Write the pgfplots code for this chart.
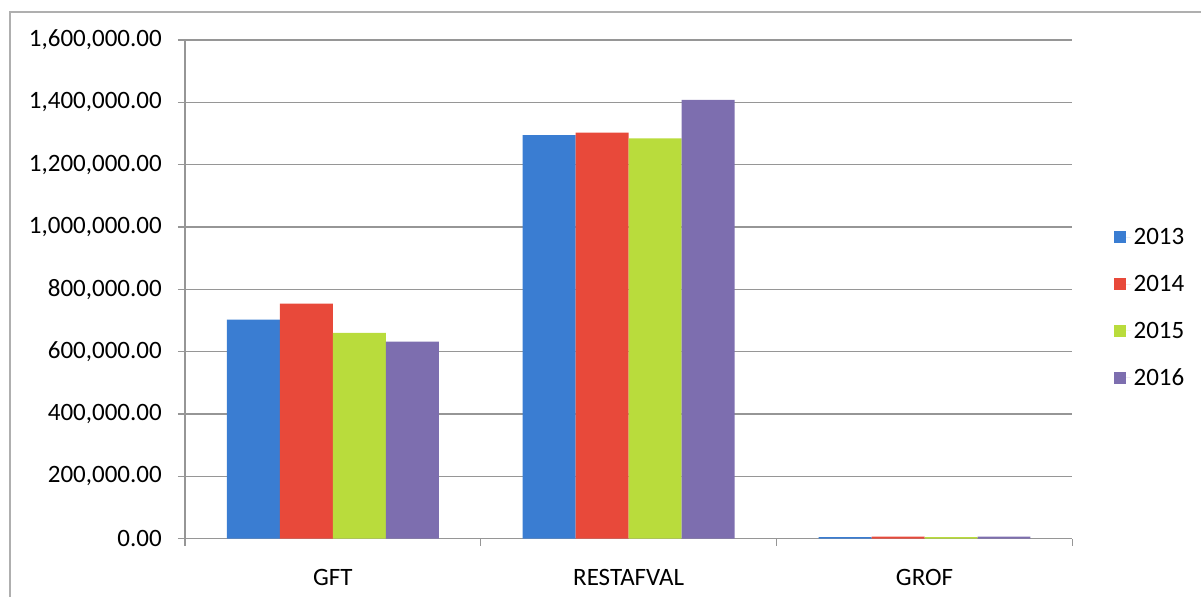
\documentclass[border=0pt]{standalone}
\usepackage{fontspec}
\setmainfont{Carlito}
\usepackage{pgfplots}
\pgfplotsset{compat=1.18}
\definecolor{c13}{RGB}{58,125,210}
\definecolor{c14}{RGB}{232,73,58}
\definecolor{c15}{RGB}{185,220,60}
\definecolor{c16}{RGB}{125,110,175}
\definecolor{gridc}{RGB}{150,150,150}
\begin{document}
\begin{tikzpicture}[x=1pt,y=1pt]
\path (0,0) rectangle (1202,597);
\draw[color={rgb,255:red,175;green,175;blue,175},line width=1.2pt] (10,0) -- (10,585) -- (1202,585);
\begin{axis}[
  at={(185pt,58pt)}, anchor=south west,
  width=888pt, height=499pt, scale only axis,
  xmin=-0.5, xmax=2.5, ymin=0, ymax=1600000,
  ybar=0pt, bar width=53pt,
  axis x line*=bottom, axis y line*=left,
  axis line style={gridc, line width=1.2pt},
  every tick/.style={gridc, line width=1.2pt},
  tick align=outside, major tick length=7pt,
  ymajorgrids, grid style={gridc, line width=1.2pt},
  ytick={0,200000,400000,600000,800000,1000000,1200000,1400000,1600000},
  scaled y ticks=false,
  yticklabel style={/pgf/number format/fixed, /pgf/number format/fixed zerofill, /pgf/number format/precision=2, /pgf/number format/1000 sep={,}, /pgf/number format/assume math mode=true},
  y tick label style={font=\fontsize{25}{30}\selectfont, inner sep=0pt, anchor=east, xshift=-16pt},
  xtick={-0.5,0.5,1.5,2.5}, xticklabels={},
  extra x ticks={0,1,2},
  extra x tick labels={GFT,RESTAFVAL,GROF},
  extra x tick style={major tick length=0pt, grid=none},
  x tick label style={font=\fontsize{25}{30}\selectfont, inner sep=0pt, anchor=north, yshift=-30pt},
  legend style={draw=none, fill=none, at={(axis description cs:1.0428,0.463)}, anchor=west,
    font=\fontsize{25}{30}\selectfont, row sep=23pt, nodes={inner sep=3pt}},
  legend cell align=left,
]
\addplot[fill=c13, draw=none, legend image code/.code={\fill[c13] (0pt,-6pt) rectangle (12pt,6pt); \path (12pt,0pt) -- (17pt,0pt);}] coordinates {(0,703000) (1,1295000) (2,5500)};
\addplot[fill=c14, draw=none, legend image code/.code={\fill[c14] (0pt,-6pt) rectangle (12pt,6pt); \path (12pt,0pt) -- (17pt,0pt);}] coordinates {(0,754000) (1,1303000) (2,6500)};
\addplot[fill=c15, draw=none, legend image code/.code={\fill[c15] (0pt,-6pt) rectangle (12pt,6pt); \path (12pt,0pt) -- (17pt,0pt);}] coordinates {(0,660000) (1,1284000) (2,5000)};
\addplot[fill=c16, draw=none, legend image code/.code={\fill[c16] (0pt,-6pt) rectangle (12pt,6pt); \path (12pt,0pt) -- (17pt,0pt);}] coordinates {(0,632000) (1,1408000) (2,7000)};
\legend{2013,2014,2015,2016}
\end{axis}
\end{tikzpicture}
\end{document}
